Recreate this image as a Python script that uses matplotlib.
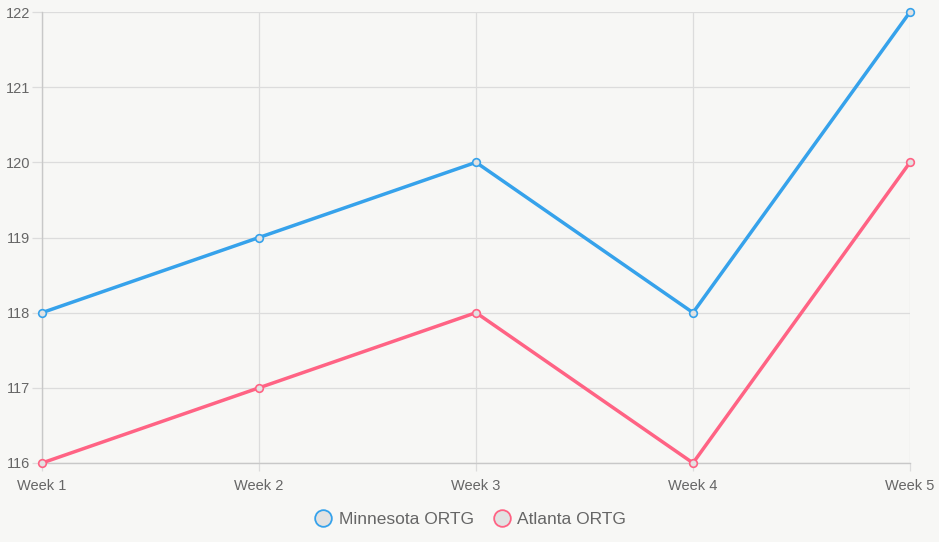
import matplotlib
matplotlib.use("Agg")
import matplotlib.pyplot as plt
from matplotlib.lines import Line2D

weeks = ["Week 1", "Week 2", "Week 3", "Week 4", "Week 5"]
minnesota = [118, 119, 120, 118, 122]
atlanta = [116, 117, 118, 116, 120]
series_names = ["Minnesota ORTG", "Atlanta ORTG"]
colors = ["#36A2EB", "#FF6384"]
yticks = [116, 117, 118, 119, 120, 121, 122]

plt.rcParams['font.family'] = ['Liberation Sans', 'DejaVu Sans']
bg = "#f7f7f5"
fig = plt.figure(figsize=(9.39, 5.42), dpi=100, facecolor=bg)
ax = fig.add_axes([42/939, 1-463/542, (910-42)/939, (463-12)/542])
ax.set_facecolor(bg)

x = list(range(len(weeks)))
for vals, c in zip([minnesota, atlanta], colors):
    ax.plot(x, vals, color=c, lw=2.5, marker='o', markersize=5.5,
            markerfacecolor="#e2e2e2", markeredgecolor=c, markeredgewidth=1.2,
            solid_joinstyle='miter', zorder=3, clip_on=False)

ax.set_xlim(0, 4)
ax.set_ylim(116, 122)
ax.set_xticks(x)
ax.set_xticklabels(weeks)
ax.set_yticks(yticks)
ax.grid(True, color="#dcdcdc", lw=0.9)
ax.set_axisbelow(True)
for s in ["top", "right"]:
    ax.spines[s].set_visible(False)
for s in ["left", "bottom"]:
    ax.spines[s].set_color("#c8c8c8")
    ax.spines[s].set_linewidth(1.0)
ax.tick_params(axis='both', colors="#dcdcdc", width=0.9,
               labelcolor="#666666", labelsize=10.5)
ax.tick_params(axis='y', length=7, pad=1.5)
ax.tick_params(axis='x', length=6, pad=5.5)

handles = [Line2D([], [], ls='none', marker='o', markersize=12,
                  markerfacecolor="#e2e2e2", markeredgecolor=c, markeredgewidth=1.3)
           for c in colors]
leg = fig.legend(handles, series_names, loc='center', bbox_to_anchor=(0.5, 1-519/542),
                 ncol=2, frameon=False, fontsize=12.5, handletextpad=0.3,
                 columnspacing=1.0, handlelength=1.2, labelcolor="#666666")

fig.savefig("out.png", dpi=100, facecolor=bg)
